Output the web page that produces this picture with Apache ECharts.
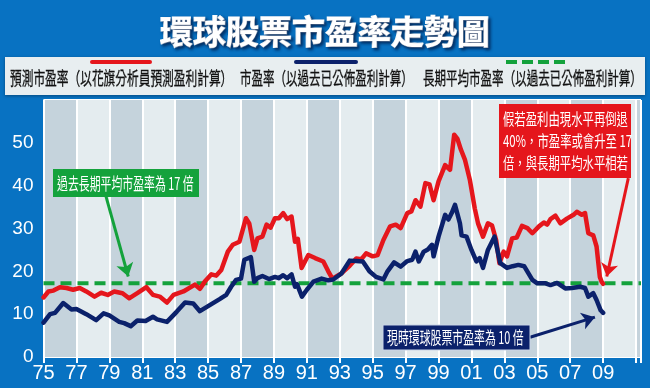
<!DOCTYPE html>
<html><head><meta charset="utf-8">
<script src="https://cdn.jsdelivr.net/npm/echarts@6/dist/echarts.min.js"></script>
<style>html,body{margin:0;padding:0;background:#0872c2}#c{width:650px;height:388px}</style>
</head><body><div id="c"></div>
<script>
// ---- data ----
const startYear = 1975;
const endYear = 2011.3;
const tickLabels = ['75','77','79','81','83','85','87','89','91','93','95','97','99','01','03','05','07','09'];
const yTickLabels = ['0','10','20','30','40','50'];
const longTermAverage = 17.2;

const forwardYears = [1975.0,1975.3,1975.6,1976.0,1976.4,1976.8,1977.2,1977.6,1978.1,1978.5,1978.9,1979.3,1979.8,1980.2,1980.7,1981.25,1981.65,1982.06,1982.5,1982.9,1983.5,1984.2,1984.5,1984.8,1985.2,1985.5,1985.8,1986.2,1986.5,1986.9,1987.3,1987.5,1987.8,1988.0,1988.3,1988.55,1988.8,1989.06,1989.3,1989.56,1989.8,1990.07,1990.28,1990.45,1990.68,1991.09,1991.5,1992.0,1992.3,1992.55,1993.1,1993.6,1994.0,1994.3,1994.6,1995.0,1995.3,1995.65,1996.06,1996.4,1996.7,1997.1,1997.35,1997.6,1997.9,1998.2,1998.45,1998.7,1999.0,1999.4,1999.7,1999.95,2000.15,2000.36,2000.6,2000.9,2001.2,2001.4,2001.7,2002.0,2002.25,2002.5,2002.7,2002.95,2003.16,2003.47,2003.75,2004.07,2004.4,2004.7,2005.1,2005.4,2005.6,2005.8,2006.1,2006.4,2006.8,2007.2,2007.4,2007.7,2007.9,2008.1,2008.4,2008.6,2008.8,2008.9,2009.0];
const forwardPE = [13.9,15.3,15.5,16.3,16.1,15.7,16.1,15.3,14.1,15.0,14.5,15.3,14.9,13.7,14.9,16.3,14.5,14.1,12.7,14.5,15.3,16.9,15.9,17.6,19.3,19.0,20.3,24.6,26.2,26.9,32.4,31.2,25.0,27.7,28.1,30.9,30.2,32.4,32.4,33.6,32.2,32.8,26.9,27.6,20.8,23.8,23.1,22.3,20.0,18.3,19.5,21.3,23.0,22.8,24.2,23.5,23.8,27.3,30.5,30.9,30.1,33.6,34.0,36.6,35.1,40.6,40.3,36.6,41.0,44.8,43.7,51.9,50.9,48.4,46.1,41.4,34.7,31.2,28.1,31.2,30.7,27.3,21.9,24.6,23.5,27.7,27.9,30.6,30.1,28.9,30.5,31.4,30.9,32.2,33.0,31.2,32.3,33.2,33.9,33.2,33.6,28.9,28.4,25.8,18.7,17.6,17.1];

const trailingYears = [1975.0,1975.4,1975.7,1976.2,1976.7,1977.0,1977.6,1978.2,1978.65,1979.0,1979.6,1979.9,1980.3,1980.7,1981.2,1981.65,1981.9,1982.5,1983.1,1983.6,1984.1,1984.5,1985.1,1985.7,1986.1,1986.4,1986.7,1987.0,1987.2,1987.6,1987.8,1988.0,1988.3,1988.7,1989.06,1989.3,1989.56,1989.8,1990.07,1990.28,1990.4,1990.7,1991.0,1991.4,1991.9,1992.3,1992.6,1993.1,1993.6,1994.0,1994.4,1994.8,1995.2,1995.65,1995.9,1996.3,1996.7,1997.1,1997.4,1997.6,1997.8,1998.1,1998.35,1998.6,1998.7,1999.0,1999.4,1999.6,1999.8,2000.0,2000.3,2000.4,2000.7,2001.0,2001.3,2001.5,2001.7,2002.0,2002.4,2002.75,2003.16,2003.5,2003.85,2004.2,2004.7,2005.0,2005.5,2005.8,2006.2,2006.7,2007.1,2007.6,2007.9,2008.1,2008.4,2008.6,2008.85,2009.0];
const trailingPE = [8.0,10.0,10.3,12.6,11.1,11.2,10.0,8.6,10.2,9.7,8.2,7.9,7.2,8.5,8.4,9.4,8.8,8.2,10.6,12.7,12.5,10.7,12.1,13.5,14.5,16.4,18.0,18.3,22.7,23.3,17.6,18.4,18.9,18.2,18.7,18.4,19.1,18.4,19.3,16.4,17.0,14.1,15.7,17.6,18.3,17.9,18.1,19.5,22.5,22.4,22.3,20.0,18.7,18.1,20.0,22.1,21.1,22.4,22.7,24.6,22.3,24.6,25.1,26.2,23.5,28.1,33.2,32.1,33.6,35.5,31.2,28.4,28.1,25.0,22.3,23.1,20.8,25.0,28.1,21.9,20.8,21.2,21.5,21.2,18.0,17.2,17.2,16.8,17.3,16.0,16.1,16.4,16.1,14.1,14.9,13.3,10.9,10.3];

const titleText = '環球股票市盈率走勢圖';
const legendNames = ['預測市盈率（以花旗分析員預測盈利計算）','市盈率（以過去已公佈盈利計算）','長期平均市盈率（以過去已公佈盈利計算）'];
const noteAverage = '過去長期平均市盈率為 17 倍';
const noteFall = '假若盈利由現水平再倒退\n40%，市盈率或會升至 17\n倍，與長期平均水平相若';
const noteNow = '現時環球股票市盈率為 10 倍';

// ---- chart ----
const RED = '#e5161c', NAVY = '#0b216b', GREEN = '#14a23c';
const CJK = '"Noto Sans CJK TC","Noto Sans CJK SC",sans-serif';
const xMax = +(endYear - startYear).toFixed(2);
const toPts = (yrs, vals) => yrs.map((y, i) => [+(y - startYear).toFixed(2), vals[i]]);

const chart = echarts.init(document.getElementById('c'), null, {renderer: 'canvas'});
chart.setOption({
  animation: false,
  backgroundColor: '#0872c2',
  title: {
    text: titleText, left: 'center', top: 10,
    textStyle: {color: '#fff', fontSize: 33, fontWeight: 'bold', fontFamily: CJK,
      textBorderColor: '#fff', textBorderWidth: 1.2,
      textShadowColor: 'rgba(0,25,70,0.75)', textShadowBlur: 3, textShadowOffsetX: 2, textShadowOffsetY: 2}
  },
  grid: {left: 43.5, right: 9, top: 100, bottom: 31, show: true, borderColor: '#ffffff', borderWidth: 1},
  xAxis: {
    type: 'value', min: 0, max: xMax, interval: 2,
    axisLine: {show: false},
    axisTick: {show: true, length: 6, lineStyle: {color: '#fff', width: 2}},
    axisLabel: {color: '#fff', fontSize: 20, margin: 6, fontFamily: 'Liberation Sans, Arial, sans-serif',
      formatter: v => (Number.isInteger(v) && v % 2 === 0 && tickLabels[v / 2] !== undefined) ? tickLabels[v / 2] : ''},
    splitLine: {show: true, lineStyle: {color: '#ffffff', width: 2}},
    splitArea: {show: true, areaStyle: {color: ['#c5d3dc', '#e4ecef']}}
  },
  yAxis: {
    type: 'value', min: 0, max: 60, interval: 10,
    axisLine: {show: false}, axisTick: {show: false},
    axisLabel: {color: '#fff', fontSize: 19, margin: 10, fontFamily: 'Liberation Sans, Arial, sans-serif',
      formatter: v => yTickLabels[v / 10] !== undefined ? yTickLabels[v / 10] : ''},
    splitLine: {show: true, lineStyle: {color: '#ffffff', width: 2}}
  },
  series: [
    {
      name: legendNames[2], type: 'line', data: [[0, longTermAverage], [xMax, longTermAverage]],
      symbol: 'none', lineStyle: {color: GREEN, width: 4, type: [11, 6]}, z: 2
    },
    {
      name: legendNames[0], type: 'line', data: toPts(forwardYears, forwardPE),
      symbol: 'none', lineStyle: {color: RED, width: 4.5, join: 'round', cap: 'round'}, z: 3
    },
    {
      name: legendNames[1], type: 'line', data: toPts(trailingYears, trailingPE),
      symbol: 'none', lineStyle: {color: NAVY, width: 4.5, join: 'round', cap: 'round'}, z: 4,
      markLine: {
        silent: true, symbol: ['none', 'arrow'], symbolSize: 13, label: {show: false}, z: 6,
        data: [
          [{coord: [3.8, 37.45], lineStyle: {color: GREEN, width: 3, type: 'solid'}}, {coord: [5.15, 18.8]}],
          [{coord: [35.53, 41.75], lineStyle: {color: RED, width: 3, type: 'solid'}}, {coord: [34.22, 18.8]}],
          [{coord: [29.56, 4.6], lineStyle: {color: NAVY, width: 3, type: 'solid'}}, {coord: [33.5, 9.3]}]
        ]
      }
    }
  ],
  graphic: [
    // legend strip
    {type: 'rect', z: 1, shape: {x: 5, y: 57, width: 640, height: 38},
      style: {fill: '#e8eef0', shadowColor: 'rgba(0,0,0,0.35)', shadowBlur: 3, shadowOffsetY: 1}},
    {type: 'line', z: 2, shape: {x1: 92, y1: 62, x2: 150, y2: 62}, style: {stroke: RED, lineWidth: 4, lineCap: 'round'}},
    {type: 'line', z: 2, shape: {x1: 296, y1: 62, x2: 356, y2: 62}, style: {stroke: NAVY, lineWidth: 4, lineCap: 'round'}},
    {type: 'line', z: 2, shape: {x1: 506, y1: 62, x2: 565, y2: 62}, style: {stroke: GREEN, lineWidth: 4, lineDash: [11, 5]}},
    {type: 'text', z: 2, x: 10, y: 78, scaleX: 0.65,
      style: {text: legendNames[0], fill: '#111', fontSize: 18, fontFamily: CJK, textAlign: 'left', textVerticalAlign: 'middle', stroke: '#111', lineWidth: 0.3}},
    {type: 'text', z: 2, x: 240, y: 78, scaleX: 0.64,
      style: {text: legendNames[1], fill: '#111', fontSize: 18, fontFamily: CJK, textAlign: 'left', textVerticalAlign: 'middle', stroke: '#111', lineWidth: 0.3}},
    {type: 'text', z: 2, x: 423, y: 78, scaleX: 0.64,
      style: {text: legendNames[2], fill: '#111', fontSize: 18, fontFamily: CJK, textAlign: 'left', textVerticalAlign: 'middle', stroke: '#111', lineWidth: 0.3}},
    // green note
    {type: 'rect', z: 20, shape: {x: 53, y: 169, width: 146, height: 28}, style: {fill: GREEN}},
    {type: 'text', z: 21, x: 57, y: 183.5, scaleX: 0.64,
      style: {text: noteAverage, fill: '#fff', fontSize: 17, fontFamily: CJK, textAlign: 'left', textVerticalAlign: 'middle'}},
    // red note
    {type: 'rect', z: 20, shape: {x: 499, y: 104, width: 132, height: 74}, style: {fill: RED}},
    {type: 'text', z: 21, x: 503, y: 108.5, scaleX: 0.71,
      style: {text: noteFall, fill: '#fff', fontSize: 16, lineHeight: 21.7, fontFamily: CJK, textAlign: 'left', textVerticalAlign: 'top'}},
    // navy note
    {type: 'rect', z: 20, shape: {x: 383, y: 325, width: 147, height: 25}, style: {fill: NAVY, stroke: '#c9d4e6', lineWidth: 1}},
    {type: 'text', z: 21, x: 387, y: 337.5, scaleX: 0.64,
      style: {text: noteNow, fill: '#fff', fontSize: 17, fontFamily: CJK, textAlign: 'left', textVerticalAlign: 'middle'}}
  ]
});
</script>
</body></html>
